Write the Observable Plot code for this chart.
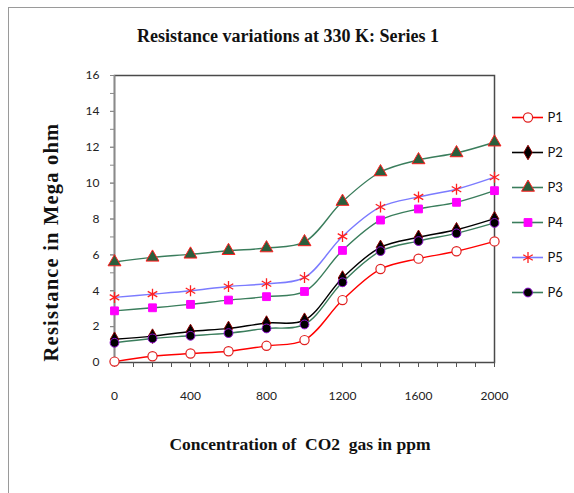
<!DOCTYPE html>
<html>
<head>
<meta charset="utf-8">
<script src="https://cdn.jsdelivr.net/npm/d3@7"></script>
<script src="https://cdn.jsdelivr.net/npm/@observablehq/plot@0.6"></script>
<style>
  html, body { margin: 0; padding: 0; background: #fff; overflow: hidden; }
  #wrap { position: relative; width: 574px; height: 493px; overflow: hidden; }
  #border { position: absolute; left: 8px; top: 7px; width: 700px; height: 700px; border: 1.5px solid #9a9a9a; box-sizing: border-box; }
  .serif { font-family: "Liberation Serif", "Times New Roman", serif; font-weight: bold; color: #111; position: absolute; white-space: pre; }
  #title { left: 288px; top: 26px; transform: translateX(-50%); font-size: 18px; }
  #xlabel { left: 300px; top: 434px; transform: translateX(-50%); font-size: 17.5px; }
  #ylabel { left: 51px; top: 242px; font-size: 20.5px; letter-spacing: 1.2px; transform: translate(-50%, -50%) rotate(-90deg); }
  #chart { position: absolute; left: 0; top: 0; }
  #legend { position: absolute; left: 505px; top: 100px; }
</style>
</head>
<body>
<div id="wrap">
  <div id="border"></div>
  <div id="chart"></div>
  <div id="legend"></div>
  <div id="title" class="serif">Resistance variations at 330 K: Series 1</div>
  <div id="xlabel" class="serif">Concentration of  CO2  gas in ppm</div>
  <div id="ylabel" class="serif">Resistance in Mega ohm</div>
</div>
<script>
const concentrations = [0, 200, 400, 600, 800, 1000, 1200, 1400, 1600, 1800, 2000];
const seriesNames = ["P1", "P2", "P3", "P4", "P5", "P6"];
const P1 = [0.05, 0.35, 0.5, 0.63, 0.93, 1.25, 3.48, 5.21, 5.79, 6.2, 6.75];
const P2 = [1.3, 1.47, 1.73, 1.9, 2.2, 2.36, 4.71, 6.42, 6.98, 7.4, 8.02];
const P3 = [5.6, 5.86, 6.03, 6.23, 6.38, 6.72, 8.97, 10.62, 11.29, 11.68, 12.28];
const P4 = [2.88, 3.05, 3.24, 3.48, 3.67, 3.96, 6.25, 7.94, 8.56, 8.93, 9.58];
const P5 = [3.63, 3.81, 4.0, 4.24, 4.39, 4.74, 7.03, 8.67, 9.23, 9.66, 10.33];
const P6 = [1.1, 1.34, 1.49, 1.64, 1.9, 2.12, 4.47, 6.21, 6.77, 7.2, 7.78];
const xTickLabels = [0, 400, 800, 1200, 1600, 2000];
const xMinorTicks = d3.range(0, 2001, 100);
const yTickLabels = [0, 2, 4, 6, 8, 10, 12, 14, 16];
const yMinorTicks = d3.range(0, 17, 1);

const seriesValues = {P1, P2, P3, P4, P5, P6};
const styles = {
  P1: {line: "#ff0000", symbol: "circle", fill: "#ffffff", stroke: "#e02020", r: 4.6, sw: 1.2},
  P2: {line: "#000000", symbol: "diamond", fill: "#000000", stroke: "#8b0000", r: 4.4, sw: 1},
  P3: {line: "#3a7d5c", symbol: "triangle", fill: "#2b5e3c", stroke: "#ff2020", r: 4.8, sw: 1},
  P4: {line: "#3a7d5c", symbol: "square", fill: "#ff00ff", stroke: "#ff00ff", r: 4.4, sw: 1},
  P5: {line: "#7b7bff", symbol: "asterisk", fill: "none", stroke: "#ff2020", r: 5.2, sw: 1.3},
  P6: {line: "#3a7d5c", symbol: "circle", fill: "#000000", stroke: "#9010d0", r: 4.4, sw: 1}
};

const rows = seriesNames.flatMap(s => concentrations.map((c, i) => ({series: s, x: c, y: seriesValues[s][i]})));

const tickFont = "Lato, 'Open Sans', sans-serif";
const marks = [
  Plot.frame({stroke: "#4a4a4a", strokeWidth: 1.5}),
  Plot.ruleX([0], {stroke: "#8a8a8a", strokeWidth: 1.5}),
  Plot.axisY({ticks: yMinorTicks, tickSize: 4, tickFormat: () => "", stroke: "#8a8a8a", label: null}),
  Plot.axisY({ticks: yTickLabels, tickSize: 4, tickPadding: 11, tickFormat: d => String(d), fontSize: 12, fontFamily: tickFont, fill: "#222", stroke: "#8a8a8a", label: null}),
  Plot.axisX({ticks: xMinorTicks, tickSize: 5, tickFormat: () => "", stroke: "#555", label: null}),
  Plot.axisX({ticks: xTickLabels, tickSize: 5, tickPadding: 24, tickFormat: d => String(d), fontSize: 12, fontFamily: tickFont, fill: "#222", stroke: "#555", label: null})
];
for (const s of seriesNames) {
  const st = styles[s];
  const d = rows.filter(r => r.series === s);
  marks.push(Plot.line(d, {x: "x", y: "y", stroke: st.line, strokeWidth: 1.4, curve: "catmull-rom"}));
  marks.push(Plot.dot(d, {x: "x", y: "y", symbol: () => st.symbol, fill: st.fill, stroke: st.stroke, strokeWidth: st.sw, r: st.r}));
}

const chart = Plot.plot({
  width: 574, height: 493,
  marginLeft: 114, marginRight: 80, marginTop: 75, marginBottom: 131,
  style: {background: "transparent", overflow: "visible"},
  x: {domain: [0, 2000], axis: null},
  y: {domain: [0, 16], axis: null},
  symbol: {type: "identity"},
  marks
});
document.getElementById("chart").append(chart);

const legendMarks = [];
for (const s of seriesNames) {
  const st = styles[s];
  legendMarks.push(Plot.ruleY([s], {y: d => d, stroke: st.line, strokeWidth: 1.6}));
  legendMarks.push(Plot.dot([s], {y: d => d, frameAnchor: "middle", symbol: () => st.symbol, fill: st.fill, stroke: st.stroke, strokeWidth: st.sw, r: st.r}));
  legendMarks.push(Plot.text([s], {y: d => d, text: d => d, frameAnchor: "right", textAnchor: "start", dx: 4, fontSize: 13, fontFamily: tickFont, fill: "#111"}));
}
const legend = Plot.plot({
  width: 65, height: 210,
  marginLeft: 7, marginRight: 27, marginTop: 16, marginBottom: 17,
  style: {background: "transparent", overflow: "visible"},
  x: {axis: null},
  y: {type: "point", domain: seriesNames, axis: null, padding: 0},
  symbol: {type: "identity"},
  marks: legendMarks
});
document.getElementById("legend").append(legend);
</script>
</body>
</html>
